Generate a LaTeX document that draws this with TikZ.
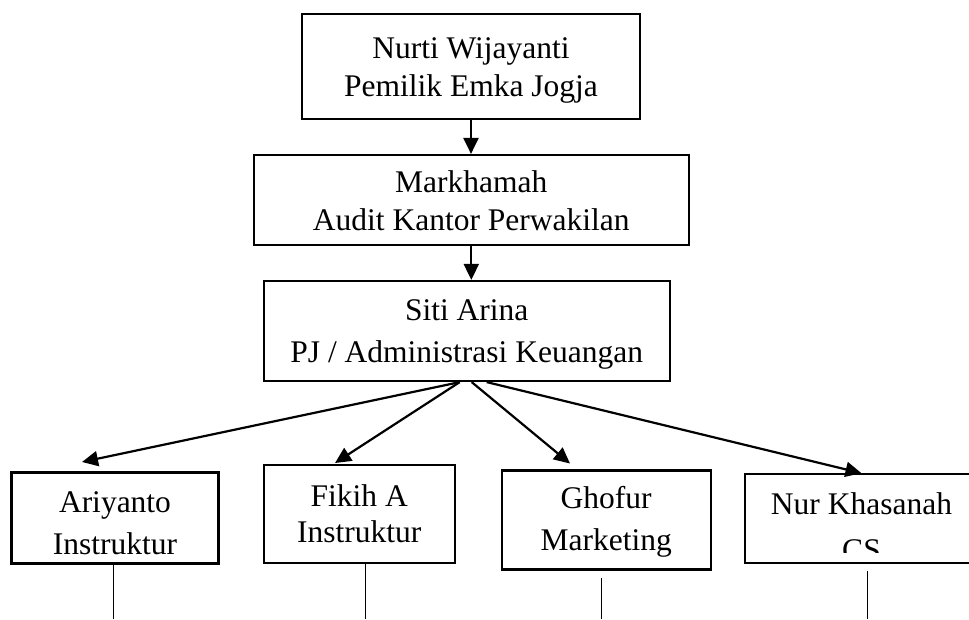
\documentclass[tikz,border=0pt]{standalone}
\usepackage{fontspec}
\setmainfont{Liberation Serif}
\usepackage{tikz}
\usetikzlibrary{arrows.meta, positioning}
\newcommand{\topgap}[1]{\rule{0pt}{#1}}

\begin{document}
\begin{tikzpicture}[
    x=1pt, y=-1pt,
    every node/.style={font=\fontsize{31.5}{38}\selectfont},
    orgbox/.style={rectangle, draw=black, line width=2.2pt, align=center, inner sep=0pt},
    staffbox/.style={orgbox, font=\fontsize{31.5}{42}\selectfont},
    flow/.style={-{Triangle[length=16pt, width=15pt]}, line width=2.2pt, color=black},
    stem/.style={line width=0.9pt, color=black},
    mask/.style={fill=white, draw=none}
]
\useasboundingbox (0,0) rectangle (969,619);

% Management chain
\node[orgbox, minimum width=338pt, minimum height=105pt] (owner) at (471,66.7) {\topgap{28pt}Nurti Wijayanti\\Pemilik Emka Jogja};
\node[orgbox, minimum width=435pt, minimum height=90pt]  (audit) at (471.3,200) {\topgap{24pt}Markhamah\\Audit Kantor Perwakilan};
\node[orgbox, minimum width=406pt, minimum height=100pt, font=\fontsize{31.5}{42}\selectfont] (admin) at (466.7,331) {\topgap{28pt}Siti Arina\\PJ / Administrasi Keuangan};

% Staff
\node[staffbox, minimum width=207pt, minimum height=91pt] (ari)  at (115,518) {\topgap{32pt}Ariyanto\\Instruktur};
\node[staffbox, minimum width=191pt, minimum height=98pt, font=\fontsize{31.5}{36}\selectfont] (fikih) at (359.2,514.2) {Fikih A\\Instruktur};
\node[staffbox, minimum width=209pt, minimum height=99pt] (ghofur) at (606.2,520) {\topgap{26pt}Ghofur\\Marketing};
\node[staffbox, minimum width=233pt, minimum height=89pt, font=\fontsize{31.5}{46}\selectfont] (nur) at (861.5,518.8) {\topgap{38pt}Nur Khasanah\\CS};

% Text cut off at the box bottom
\fill[mask] ([xshift=2.6pt, yshift=2.4pt]ari.south west) rectangle ([xshift=-2.6pt, yshift=8.5pt]ari.south east);
\fill[mask] ([xshift=2.6pt, yshift=2.4pt]nur.south west) rectangle ([xshift=-2.6pt, yshift=11pt]nur.south east);

% Free ends
\coordinate (ariTip) at (82,462);
\coordinate (fikTip) at (335,463);
\coordinate (ghoTip) at (570,463.5);
\coordinate (ariFoot) at (113.3,619);
\coordinate (fikFoot) at (365,619);
\coordinate (ghoFoot) at (601,619);
\coordinate (nurFoot) at (867.3,619);

% Chain arrows
\draw[flow] (owner.south) -- (owner.south |- audit.north);
\draw[flow] (audit.south) -- (audit.south |- admin.north);

% Staff arrows
\draw[flow] ([xshift=-7pt]admin.south) -- (ariTip);
\draw[flow] ([xshift=-7pt]admin.south) -- (fikTip);
\draw[flow] ([xshift=5pt]admin.south) -- (ghoTip);
\draw[flow] ([xshift=20pt]admin.south) -- (nur.north);

% Stems
\draw[stem] (ariFoot |- ari.south) -- (ariFoot);
\draw[stem] (fikFoot |- fikih.south) -- (fikFoot);
\draw[stem] ([yshift=-7pt]ghoFoot |- ghofur.south) -- (ghoFoot);
\draw[stem] ([yshift=-7pt]nurFoot |- nur.south) -- (nurFoot);
\end{tikzpicture}
\end{document}
